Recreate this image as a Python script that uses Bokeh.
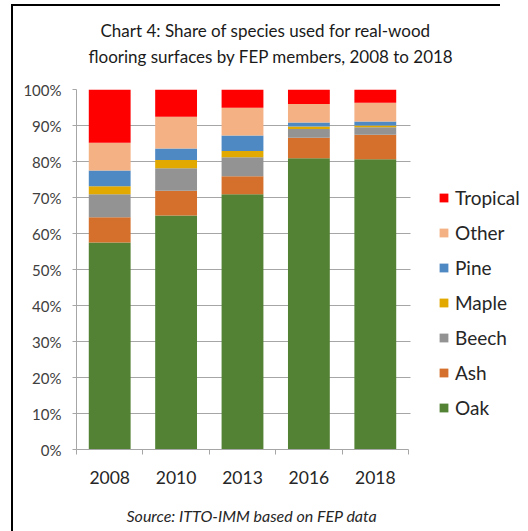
from bokeh.plotting import figure
from bokeh.models import (ColumnDataSource, FixedTicker, PrintfTickFormatter, Legend,
                          LegendItem, Title, Range1d, InlineStyleSheet, BoxAnnotation)
from bokeh.embed import file_html
from bokeh.resources import INLINE

years = ["2008", "2010", "2013", "2016", "2018"]
species = ["Oak", "Ash", "Beech", "Maple", "Pine", "Other", "Tropical"]
colors = ["#548235", "#D4702B", "#939393", "#E2AA00", "#4F89C3", "#F4B183", "#FF0000"]

oak = [57.5, 65.0, 70.9, 80.9, 80.6]
ash = [7.0, 6.9, 5.0, 5.7, 6.8]
beech = [6.4, 6.2, 5.3, 2.4, 2.1]
maple = [2.2, 2.3, 1.7, 0.7, 0.5]
pine = [4.4, 3.2, 4.3, 1.1, 1.1]
other = [7.7, 8.8, 7.7, 5.2, 5.2]
tropical = [14.8, 7.6, 5.7, 4.0, 3.7]

y_ticks = [0, 10, 20, 30, 40, 50, 60, 70, 80, 90, 100]

title_lines = ["Chart 4: Share of species used for real-wood",
               "flooring surfaces by FEP members, 2008 to 2018"]
source_text = "Source: ITTO-IMM based on FEP data"

FONT = "Lato"

# layout in pixels: bars area 76..408, frame extends to 528 to host the legend
BAR_AREA_PX = 332
FRAME_PX = 528 - 76
n = len(years)

xpos = [i + 0.5 for i in range(n)]
source = ColumnDataSource(dict(x=xpos, Oak=oak, Ash=ash, Beech=beech, Maple=maple,
                               Pine=pine, Other=other, Tropical=tropical))

border_css = InlineStyleSheet(css="""
:host::after {
  content: "";
  position: absolute;
  left: 11px; top: 4px; width: 489px; height: 527px;
  border-left: 2px solid black; border-top: 2px solid black;
  box-sizing: border-box;
  pointer-events: none;
  z-index: 100;
}
""")

p = figure(width=528, height=531, output_backend="svg", toolbar_location=None,
           x_range=Range1d(0, n * FRAME_PX / BAR_AREA_PX), y_range=Range1d(0, 100),
           min_border_left=76, min_border_right=0, min_border_top=89,
           min_border_bottom=82, title=None)
p.stylesheets = [border_css]
p.outline_line_color = None
p.background_fill_color = "white"
p.border_fill_color = "white"

renderers = p.vbar_stack(species, x="x", width=0.63, color=colors, source=source,
                         line_color=None)

# grid
p.xgrid.grid_line_color = None
p.ygrid.grid_line_color = "#A6A6A6"
p.ygrid.grid_line_width = 1
p.ygrid.ticker = FixedTicker(ticks=y_ticks[1:])

# white cover so that grid lines stop just after the bar area
p.add_layout(BoxAnnotation(left=n * 334 / BAR_AREA_PX, fill_color="white",
                           fill_alpha=1, line_color=None))

# y axis
p.yaxis.ticker = FixedTicker(ticks=y_ticks)
p.yaxis.formatter = PrintfTickFormatter(format="%d%%")
p.yaxis.axis_line_color = "#A6A6A6"
p.yaxis.major_tick_line_color = "#A6A6A6"
p.yaxis.major_tick_out = 4
p.yaxis.major_tick_in = 0
p.yaxis.minor_tick_line_color = None
p.yaxis.major_label_standoff = 11
p.yaxis.major_label_text_font = FONT
p.yaxis.major_label_text_font_size = "15px"
p.yaxis.major_label_text_color = "#404040"

# x axis (limited to the bar area)
p.xaxis.bounds = (0, n)
p.xaxis.ticker = FixedTicker(ticks=xpos, minor_ticks=list(range(n + 1)))
p.xaxis.major_label_overrides = {x: y for x, y in zip(xpos, years)}
p.xaxis.axis_line_color = "#A6A6A6"
p.xaxis.major_tick_line_color = None
p.xaxis.major_tick_out = 0
p.xaxis.major_tick_in = 0
p.xaxis.minor_tick_line_color = "#A6A6A6"
p.xaxis.minor_tick_out = 5
p.xaxis.minor_tick_in = 0
p.xaxis.major_label_standoff = 16
p.xaxis.major_label_text_font = FONT
p.xaxis.major_label_text_font_size = "17.5px"
p.xaxis.major_label_text_color = "#262626"

# legend inside the (extended) frame
items = [LegendItem(label=s, renderers=[r]) for s, r in zip(species, renderers)][::-1]
legend = Legend(items=items, location=(362, 30), padding=31, margin=0,
                glyph_width=11, glyph_height=11, label_height=20, spacing=12,
                label_standoff=6, border_line_color=None,
                background_fill_color="white", background_fill_alpha=0,
                label_text_font=FONT, label_text_font_size="19px",
                label_text_color="#262626",
                title=" ", title_text_font_size="10px", title_standoff=60)
p.add_layout(legend, "center")

# titles above (first added sits nearest the frame)
p.add_layout(Title(text=" ", text_font_size="10px", standoff=10), "above")
p.add_layout(Title(text=title_lines[1], align="left", offset=12, standoff=0,
                   text_font=FONT, text_font_size="17px", text_font_style="normal",
                   text_color="#1A1A1A"), "above")
p.add_layout(Title(text=title_lines[0], align="left", offset=24, standoff=6,
                   text_font=FONT, text_font_size="17px", text_font_style="normal",
                   text_color="#1A1A1A"), "above")

# source note below the axis
p.add_layout(Title(text=" ", text_font_size="10px", standoff=4), "below")
p.add_layout(Title(text=source_text, align="left", offset=50, standoff=0,
                   text_font=FONT, text_font_size="16px", text_font_style="italic",
                   text_color="#262626"), "below")

open("out.html", "w").write(file_html(p, INLINE))
